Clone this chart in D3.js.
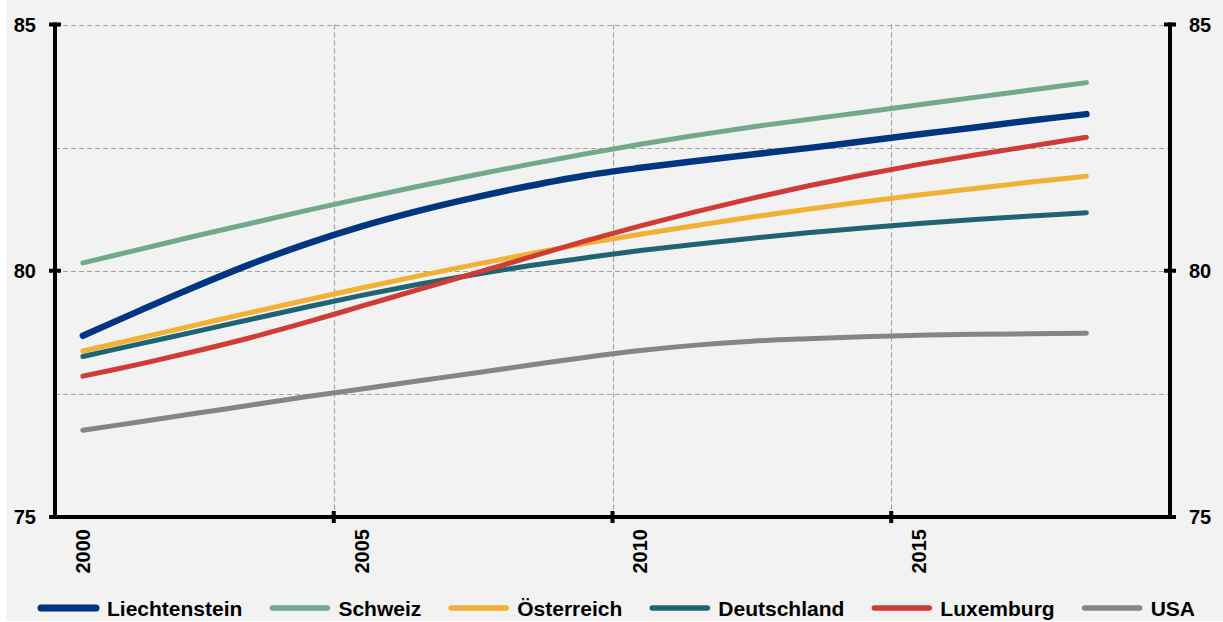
<!DOCTYPE html>
<html>
<head>
<meta charset="utf-8">
<script src="https://cdn.jsdelivr.net/npm/d3@7"></script>
<style>
  html, body { margin: 0; padding: 0; background: #ffffff; }
  svg { display: block; }
  text { font-family: "Liberation Sans", Arial, sans-serif; font-weight: bold; fill: #000; }
</style>
</head>
<body>
<svg id="chart" width="1223" height="622"></svg>
<script>
// ---- Data ----
const years = d3.range(2000, 2020); // category slots on the axis (2000..2019)
const dataYears = d3.range(2000, 2019); // years with values (2000..2018)
const tickYears = [2000, 2005, 2010, 2015];
const yTicks = [75, 80, 85];
const yGrid = [77.5, 80, 82.5, 85];

const seriesNames = ["Liechtenstein", "Schweiz", "Österreich", "Deutschland", "Luxemburg", "USA"];
const seriesColors = ["#003580", "#72a98b", "#f0b134", "#1f6475", "#d03b36", "#858585"];

const liechtenstein = [78.68, 79.18, 79.67, 80.13, 80.54, 80.90, 81.21, 81.48, 81.72, 81.93, 82.09, 82.23, 82.36, 82.49, 82.63, 82.77, 82.91, 83.05, 83.18];
const schweiz       = [80.16, 80.43, 80.70, 80.96, 81.22, 81.47, 81.71, 81.94, 82.16, 82.37, 82.57, 82.75, 82.92, 83.07, 83.22, 83.37, 83.52, 83.67, 83.82];
const oesterreich   = [78.37, 78.63, 78.89, 79.15, 79.40, 79.65, 79.89, 80.12, 80.34, 80.55, 80.74, 80.92, 81.09, 81.25, 81.40, 81.54, 81.67, 81.80, 81.92];
const deutschland   = [78.26, 78.51, 78.76, 79.01, 79.26, 79.50, 79.72, 79.92, 80.10, 80.26, 80.41, 80.54, 80.66, 80.77, 80.87, 80.96, 81.04, 81.11, 81.18];
const luxemburg     = [77.86, 78.10, 78.36, 78.64, 78.95, 79.28, 79.61, 79.94, 80.27, 80.60, 80.91, 81.20, 81.47, 81.72, 81.95, 82.16, 82.35, 82.53, 82.71];
const usa           = [76.76, 76.93, 77.10, 77.27, 77.44, 77.60, 77.76, 77.92, 78.08, 78.24, 78.38, 78.49, 78.57, 78.62, 78.66, 78.69, 78.71, 78.72, 78.73];

const seriesValues = [liechtenstein, schweiz, oesterreich, deutschland, luxemburg, usa];
const seriesWidths = [6.5, 5, 5, 5, 5, 5];

// ---- Layout ----
const W = 1223, H = 622;
const pLeft = 55, pRight = 1170, pTop = 24.5, pBottom = 517;

const svg = d3.select("#chart");

svg.append("rect").attr("x", 6).attr("y", 0).attr("width", W - 6).attr("height", 621).attr("fill", "#f2f2f2");

const x = d3.scaleBand().domain(years).range([pLeft, pRight]).paddingInner(0).paddingOuter(0);
const y = d3.scaleLinear().domain([75, 85]).range([pBottom, pTop]);
const cx = yr => x(yr) + x.bandwidth() / 2;

// Grid
const grid = svg.append("g").attr("stroke", "#a3a3a3").attr("stroke-width", 1.2).attr("stroke-dasharray", "5,3").attr("fill", "none");
yGrid.forEach(v => {
  grid.append("line").attr("x1", pLeft).attr("x2", pRight).attr("y1", Math.round(y(v)) + 0.5).attr("y2", Math.round(y(v)) + 0.5);
});
tickYears.filter(t => t !== 2000).forEach(t => {
  grid.append("line").attr("x1", Math.round(x(t)) + 0.5).attr("x2", Math.round(x(t)) + 0.5).attr("y1", pTop).attr("y2", pBottom);
});

// Lines
const line = d3.line().x((d, i) => cx(dataYears[i])).y(d => y(d)).curve(d3.curveCatmullRom.alpha(0.5));
const order = [5, 3, 2, 4, 1, 0];
order.forEach(k => {
  svg.append("path")
    .attr("d", line(seriesValues[k]))
    .attr("fill", "none")
    .attr("stroke", seriesColors[k])
    .attr("stroke-width", seriesWidths[k])
    .attr("stroke-linecap", "round")
    .attr("stroke-linejoin", "round");
});

// Axes
const ax = svg.append("g").attr("stroke", "#000").attr("stroke-width", 4).attr("fill", "none");
ax.append("line").attr("x1", pLeft).attr("x2", pLeft).attr("y1", pTop - 2).attr("y2", pBottom + 2);
ax.append("line").attr("x1", pRight).attr("x2", pRight).attr("y1", pTop - 2).attr("y2", pBottom + 2);
ax.append("line").attr("x1", pLeft - 2).attr("x2", pRight + 2).attr("y1", pBottom).attr("y2", pBottom);
yTicks.forEach(v => {
  ax.append("line").attr("x1", pLeft - 6).attr("x2", pLeft + 6).attr("y1", y(v)).attr("y2", y(v));
  ax.append("line").attr("x1", pRight - 6).attr("x2", pRight + 6).attr("y1", y(v)).attr("y2", y(v));
});
tickYears.filter(t => t !== 2000).forEach(t => {
  ax.append("line").attr("x1", x(t)).attr("x2", x(t)).attr("y1", pBottom - 6).attr("y2", pBottom + 6);
});

// Y labels
yTicks.forEach(v => {
  svg.append("text").attr("x", pLeft - 19).attr("y", y(v)).attr("dy", "0.35em")
    .attr("text-anchor", "end").attr("font-size", 20).text(v);
  svg.append("text").attr("x", pRight + 19).attr("y", y(v)).attr("dy", "0.35em")
    .attr("text-anchor", "start").attr("font-size", 20).text(v);
});

// X labels (rotated)
tickYears.forEach(t => {
  svg.append("text")
    .attr("transform", `translate(${cx(t)},${pBottom + 12}) rotate(-90)`)
    .attr("dy", "0.35em")
    .attr("text-anchor", "end")
    .attr("font-size", 20)
    .text(t);
});

// Legend
let lx = 41;
const ly = 608;
seriesNames.forEach((name, k) => {
  svg.append("line").attr("x1", lx).attr("x2", lx + 55).attr("y1", ly).attr("y2", ly)
    .attr("stroke", seriesColors[k]).attr("stroke-width", k === 0 ? 7 : 5.5).attr("stroke-linecap", "round");
  const t = svg.append("text").attr("x", lx + 66).attr("y", ly + 7.5).attr("font-size", 21).text(name);
  lx = lx + 66 + t.node().getComputedTextLength() + 30;
});
</script>
</body>
</html>
